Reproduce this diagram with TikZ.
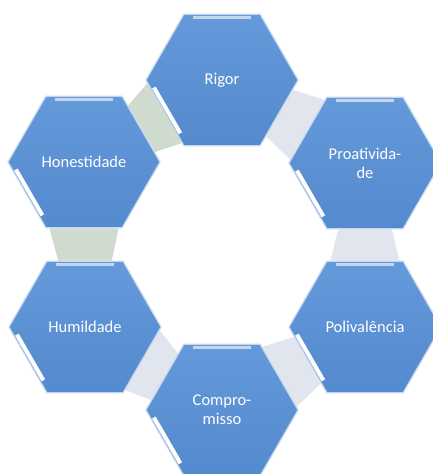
\documentclass[tikz,border=0pt]{standalone}
\usepackage{fontspec}
\setmainfont{Carlito}
\usetikzlibrary{shapes.geometric,calc,backgrounds}
\definecolor{hexblue}{RGB}{84,138,206}
\definecolor{hexlight}{RGB}{100,153,218}
\definecolor{hexrim}{RGB}{196,214,238}
\definecolor{linkgray}{RGB}{224,229,238}
\definecolor{linkgreen}{RGB}{206,219,206}
\tikzset{
  hexa/.style={regular polygon,regular polygon sides=6,
    minimum size=152pt,inner sep=0pt,top color=hexlight,bottom color=hexblue,
    draw=hexrim,line width=1.2pt,text=white,align=center,
    font=\fontsize{16.5}{19}\selectfont}
}
\newcommand{\bevel}[1]{%
  \draw[hexrim,line width=3pt] ($($(#1.corner 2)!.1!(#1.corner 1)$)!4pt!(#1.center)$)
    -- ($($(#1.corner 1)!.1!(#1.corner 2)$)!4pt!(#1.center)$);
  \draw[white,line width=4pt] ($($(#1.corner 3)!.12!(#1.corner 4)$)!4pt!(#1.center)$)
    -- ($($(#1.corner 3)!.85!(#1.corner 4)$)!4pt!(#1.center)$);}

\begin{document}
\begin{tikzpicture}[x=1pt,y=1pt]
  \useasboundingbox (0,0) rectangle (433,474);
  \clip (0,0) rectangle (433,474);
  \node[hexa] (rigor) at (222,394) {Rigor};
  \node[hexa] (proat) at (365,311) {Proativida-\\de};
  \node[hexa] (poli) at (365,147) {Polivalência};
  \node[hexa] (comp) at (222,64) {Compro-\\misso};
  \node[hexa] (humil) at (85,147) {Humildade};
  \node[hexa] (hones) at (84,312) {Honestidade};
  \foreach \h in {rigor,proat,poli,comp,humil,hones} {\bevel{\h}}
  \begin{scope}[on background layer]
    \foreach \src/\dst/\ka/\kb/\la/\lb/\col in {rigor/proat/5/6/2/3/linkgray,proat/poli/4/5/1/2/linkgray,
        poli/comp/3/4/6/1/linkgray,comp/humil/2/3/5/6/linkgray,
        humil/hones/1/2/4/5/linkgreen,hones/rigor/6/1/3/4/linkgreen}
      \fill[\col] ($(\src.corner \ka)!.15!(\src.corner \kb)$) -- ($(\src.corner \kb)!.15!(\src.corner \ka)$)
        -- ($(\dst.corner \la)!.05!(\dst.corner \lb)$) -- ($(\dst.corner \lb)!.05!(\dst.corner \la)$) -- cycle;
  \end{scope}
\end{tikzpicture}
\end{document}
